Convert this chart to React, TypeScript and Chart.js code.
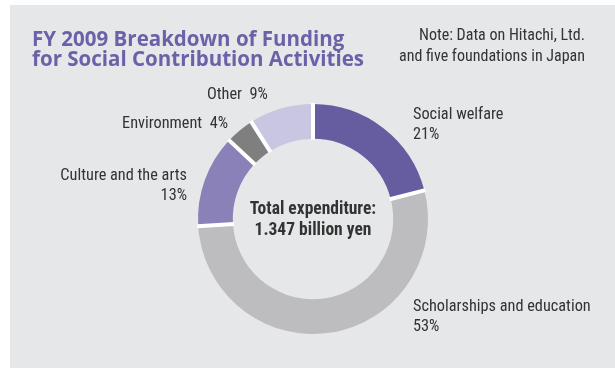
import React, { useEffect, useRef } from "react";
import { Chart, registerables } from "chart.js";

Chart.register(...registerables);

const categories = [
  "Social welfare",
  "Scholarships and education",
  "Culture and the arts",
  "Environment",
  "Other",
];
const shares = [21, 53, 13, 4, 9];
const sliceColors = ["#655d9f", "#bdbdbf", "#8a81b8", "#7f7f80", "#c9c6e2"];
const titleLines = ["FY 2009 Breakdown of Funding", "for Social Contribution Activities"];
const noteLines = ["Note: Data on Hitachi, Ltd.", "and five foundations in Japan"];
const centerLines = ["Total expenditure:", "1.347 billion yen"];

// label layout relative to doughnut centre: offsets, alignment, one or two lines
const labelLayout = [
  { dx: 100, dy: -104, align: "left", twoLine: true },
  { dx: 100, dy: 88, align: "left", twoLine: true },
  { dx: -126, dy: -43, align: "right", twoLine: true },
  { dx: -85, dy: -95, align: "right", twoLine: false },
  { dx: -106, dy: -124, align: "left", twoLine: false },
];

const BG = "#e6e7e8";
const TEXT = "#333333";
const TITLE_COLOR = "#6a61a8";
const NARROW = "'Roboto Condensed', 'DejaVu Sans Condensed', sans-serif";

const decorPlugin = {
  id: "decor",
  beforeDraw(chart: any) {
    const ctx = chart.ctx;
    ctx.save();
    ctx.fillStyle = BG;
    ctx.fillRect(10, 5, chart.width - 10, chart.height - 5);
    ctx.restore();
  },
  afterDatasetsDraw(chart: any) {
    // white separators between slices, at each arc's start angle
    const ctx = chart.ctx;
    const meta = chart.getDatasetMeta(0);
    ctx.save();
    ctx.strokeStyle = "#ffffff";
    ctx.lineWidth = 4;
    meta.data.forEach((arc: any) => {
      const a = arc.startAngle;
      const r0 = arc.innerRadius - 1;
      const r1 = arc.outerRadius + 1;
      ctx.beginPath();
      ctx.moveTo(arc.x + Math.cos(a) * r0, arc.y + Math.sin(a) * r0);
      ctx.lineTo(arc.x + Math.cos(a) * r1, arc.y + Math.sin(a) * r1);
      ctx.stroke();
    });
    ctx.restore();
  },
  afterDraw(chart: any) {
    const ctx = chart.ctx;
    const meta = chart.getDatasetMeta(0);
    const arc = meta.data[0];
    const cx = arc.x;
    const cy = arc.y;
    ctx.save();
    ctx.textBaseline = "middle";

    // title
    ctx.fillStyle = TITLE_COLOR;
    ctx.font = "bold 20.5px 'Open Sans', sans-serif";
    ctx.textAlign = "left";
    titleLines.forEach((t, i) => ctx.fillText(t, 32, 40 + i * 20));

    // note
    ctx.fillStyle = TEXT;
    ctx.font = `16px ${NARROW}`;
    ctx.textAlign = "right";
    noteLines.forEach((t, i) => ctx.fillText(t, 585, 36 + i * 21));

    // centre text
    ctx.font = `bold 17.5px ${NARROW}`;
    ctx.textAlign = "center";
    centerLines.forEach((t, i) => ctx.fillText(t, cx, cy - 9 + i * 21));

    // slice labels
    ctx.font = `16.3px ${NARROW}`;
    categories.forEach((name, i) => {
      const L = labelLayout[i];
      const pct = `${shares[i]}%`;
      ctx.textAlign = L.align;
      const x = cx + L.dx;
      const y = cy + L.dy;
      if (L.twoLine) {
        ctx.fillText(name, x, y);
        ctx.fillText(pct, x, y + 19.5);
      } else {
        ctx.fillText(`${name}  ${pct}`, x, y);
      }
    });
    ctx.restore();
  },
};

export default function App() {
  const ref = useRef<HTMLCanvasElement>(null);
  useEffect(() => {
    document.body.style.margin = "0";
    const chart = new Chart(ref.current as HTMLCanvasElement, {
      type: "doughnut",
      data: {
        labels: categories,
        datasets: [
          {
            data: shares,
            backgroundColor: sliceColors,
            borderWidth: 0,
            radius: 115,
            cutout: 83,
          } as any,
        ],
      },
      options: {
        responsive: false,
        maintainAspectRatio: false,
        animation: false,
        events: [],
        layout: { padding: { left: 11, right: 0, top: 100, bottom: 30 } },
        plugins: {
          legend: { display: false },
          tooltip: { enabled: false },
          title: { display: false },
        },
      },
      plugins: [decorPlugin],
    } as any);
    return () => chart.destroy();
  }, []);
  return (
    <div style={{ width: 615, height: 368 }}>
      <canvas ref={ref} width={615} height={368} />
    </div>
  );
}
